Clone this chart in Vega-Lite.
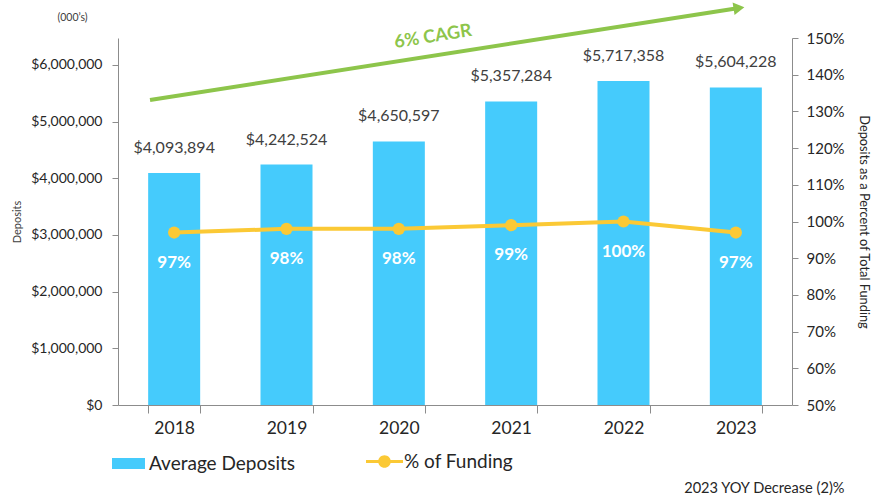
{
  "$schema": "https://vega.github.io/schema/vega-lite/v6.json",
  "width": 674,
  "height": 367,
  "autosize": {"type": "none"},
  "padding": {"left": 118, "top": 38, "right": 80, "bottom": 97},
  "background": "white",
  "config": {"view": {"stroke": null}, "font": "Lato", "axis": {"grid": false, "labelOverlap": false, "labelSeparation": 0}},
  "datasets": {
    "main": [
      {"year": "2018", "deposits": 4093894, "pct": 0.97},
      {"year": "2019", "deposits": 4242524, "pct": 0.98},
      {"year": "2020", "deposits": 4650597, "pct": 0.98},
      {"year": "2021", "deposits": 5357284, "pct": 0.99},
      {"year": "2022", "deposits": 5717358, "pct": 1.00},
      {"year": "2023", "deposits": 5604228, "pct": 0.97}
    ],
    "arrow": [
      {"x0": 0.285, "y0": 5382000, "x1": 5.50, "y1": 6998000, "label": "6% CAGR", "lx": 2.804, "ly": 6494000, "hx": 5.528, "hy": 7005000}
    ]
  },
  "layer": [
    {
      "data": {"name": "main"},
      "layer": [
        {
          "mark": {"type": "bar"},
          "encoding": {
            "x": {"field": "year", "type": "nominal", "scale": {"paddingInner": 0.537, "paddingOuter": 0.2685},
              "axis": {"title": "2023 YOY Decrease (2)%", "titleX": 726, "titleY": 83, "titleAlign": "right", "titleBaseline": "middle", "titleFontSize": 14.6, "titleFontWeight": "normal", "titleColor": "#262626",
                "labelAngle": 0, "labelFontSize": 17.5, "labelColor": "#262626", "labelPadding": 6, "tickBand": "extent", "tickSize": 8, "domainColor": "#8c8c8c", "tickColor": "#8c8c8c"}},
            "y": {"field": "deposits", "type": "quantitative", "scale": {"domain": [0, 6476000], "nice": false},
              "axis": {"title": "Deposits", "values": [0, 1000000, 2000000, 3000000, 4000000, 5000000, 6000000], "format": "$,.0f", "labelFontSize": 14, "labelColor": "#262626", "tickSize": 6, "labelPadding": 10, "titleFontSize": 11, "titleFontWeight": "normal", "titleColor": "#404040", "titlePadding": 8, "domainColor": "#8c8c8c", "tickColor": "#8c8c8c"}},
            "fill": {"datum": "Average Deposits", "scale": {"range": ["#45CBFC"]},
              "legend": {"orient": "none", "legendX": -6, "legendY": 409, "title": null, "padding": 0, "symbolType": "M-1,-0.33H1V0.33H-1Z", "symbolSize": 1089, "symbolStrokeWidth": 0, "labelFontSize": 19, "labelColor": "#262626", "labelOffset": 4}}
          }
        },
        {
          "mark": {"type": "text", "baseline": "alphabetic", "dy": -20, "fontSize": 16, "color": "#404040"},
          "encoding": {
            "x": {"field": "year", "type": "nominal"},
            "y": {"field": "deposits", "type": "quantitative"},
            "text": {"field": "deposits", "type": "quantitative", "format": "$,.0f"}
          }
        }
      ]
    },
    {
      "data": {"name": "main"},
      "encoding": {
        "x": {"field": "year", "type": "nominal", "scale": {"paddingInner": 0.537, "paddingOuter": 0.2685}, "axis": null},
        "y": {"field": "pct", "type": "quantitative", "scale": {"domain": [0.5, 1.5], "nice": false},
          "axis": {"orient": "right", "title": "Deposits as a Percent of Total Funding", "values": [0.5, 0.6, 0.7, 0.8, 0.9, 1.0, 1.1, 1.2, 1.3, 1.4, 1.5], "format": ".0%", "labelOverlap": false, "labelSeparation": 0, "labelFontSize": 15, "labelColor": "#262626", "tickSize": 6, "labelPadding": 8, "titleFontSize": 12.8, "titleFontWeight": "normal", "titleColor": "#262626", "titlePadding": 12, "domainColor": "#8c8c8c", "tickColor": "#8c8c8c"}}
      },
      "layer": [
        {
          "mark": {"type": "line", "strokeWidth": 4},
          "encoding": {
            "stroke": {"datum": "% of Funding", "scale": {"range": ["#FBC935"]},
              "legend": {"orient": "none", "legendX": 248, "legendY": 405, "title": null, "padding": 0, "symbolType": "M-1,-0.08H1V0.08H-1Z M-0.34,0A0.34,0.34 0 1,1 0.34,0A0.34,0.34 0 1,1 -0.34,0Z", "symbolSize": 1369, "labelFontSize": 19, "labelColor": "#262626", "labelOffset": 1,
                "encode": {"symbols": {"update": {"fill": {"value": "#FBC935"}, "strokeWidth": {"value": 0}}}}}}
          }
        },
        {
          "mark": {"type": "point", "filled": true, "size": 150, "color": "#FBC935", "opacity": 1},
          "encoding": {}
        },
        {
          "mark": {"type": "text", "baseline": "middle", "dy": 30, "fontSize": 17, "fontWeight": "bold", "color": "white"},
          "encoding": {
            "text": {"field": "pct", "type": "quantitative", "format": ".0%"}
          }
        }
      ]
    },
    {
      "data": {"name": "arrow"},
      "layer": [
        {
          "mark": {"type": "rule", "strokeWidth": 4, "color": "#8DC54B"},
          "encoding": {
            "x": {"field": "x0", "type": "quantitative", "scale": {"domain": [0, 6], "nice": false},
              "axis": {"orient": "top", "title": "(000’s)", "domain": false, "ticks": false, "labels": false, "titleX": -46, "titleY": -21, "titleAngle": 0, "titleAlign": "center", "titleBaseline": "middle", "titleFontSize": 10.5, "titleFontWeight": "normal", "titleColor": "#404040"}},
            "x2": {"field": "x1"},
            "y": {"field": "y0", "type": "quantitative", "scale": {"domain": [0, 6476000], "nice": false}, "axis": null},
            "y2": {"field": "y1"}
          }
        },
        {
          "mark": {"type": "point", "shape": "triangle-right", "filled": true, "size": 160, "color": "#8DC54B", "opacity": 1, "angle": -8.9},
          "encoding": {
            "x": {"field": "hx", "type": "quantitative"},
            "y": {"field": "hy", "type": "quantitative"}
          }
        },
        {
          "mark": {"type": "text", "angle": -9, "fontSize": 18, "fontWeight": "bold", "color": "#8DC54B", "baseline": "middle"},
          "encoding": {
            "x": {"field": "lx", "type": "quantitative"},
            "y": {"field": "ly", "type": "quantitative"},
            "text": {"field": "label"}
          }
        }
      ]
    }
  ],
  "resolve": {"scale": {"x": "independent", "y": "independent"}}
}
